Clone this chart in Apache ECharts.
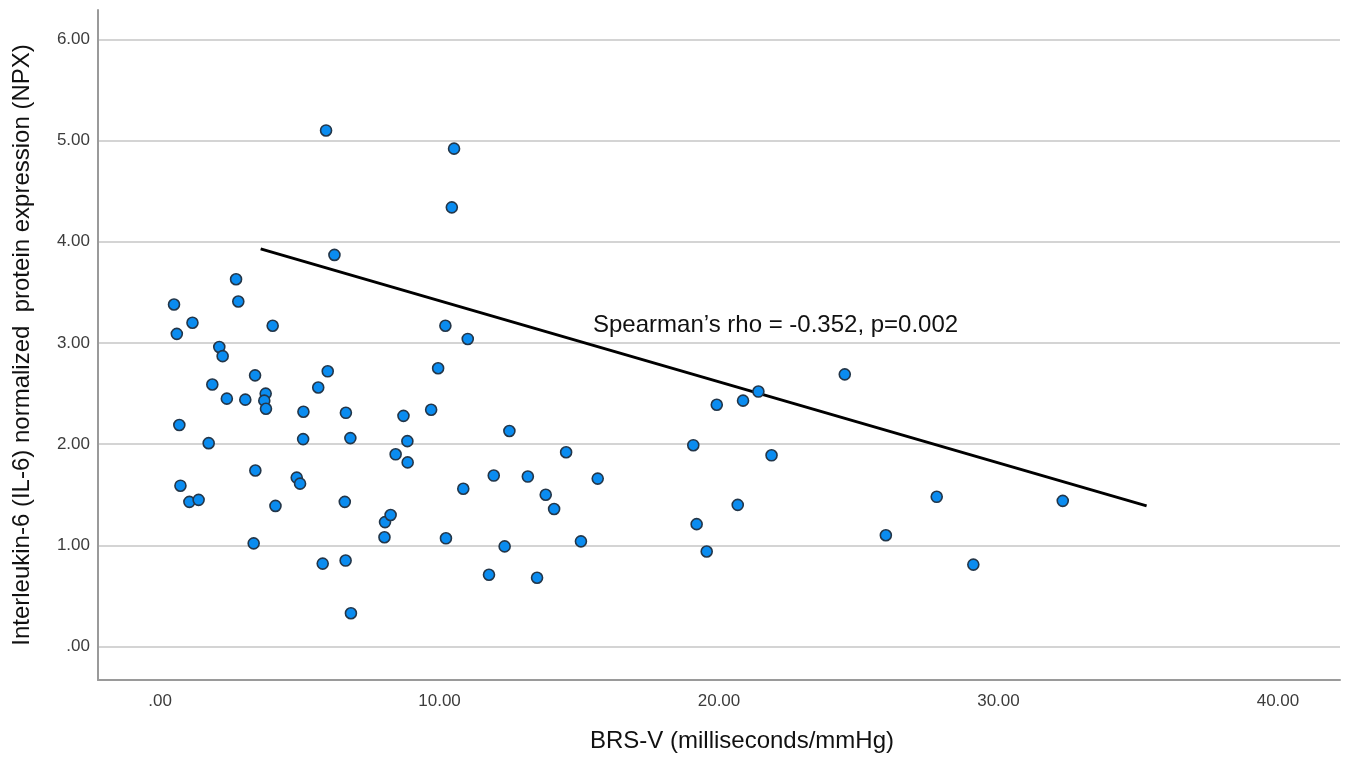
<!DOCTYPE html>
<html><head><meta charset="utf-8">
<script src="https://cdn.jsdelivr.net/npm/echarts@6/dist/echarts.min.js"></script>
<style>html,body{margin:0;padding:0;background:#fff}#c{width:1351px;height:762px}</style>
</head><body><div id="c"></div>
<script>
var brsV = [0.50,0.60,1.16,0.69,0.73,1.05,1.38,1.74,1.87,2.12,2.24,2.39,2.72,2.80,3.05,3.40,3.41,3.35,3.78,3.73,3.79,4.03,4.13,4.89,5.01,5.13,5.12,5.66,5.82,5.94,6.00,6.24,6.65,6.61,6.64,6.81,6.83,8.03,8.05,8.25,8.43,8.71,8.85,8.86,9.70,9.95,10.21,10.23,10.44,10.52,11.01,10.85,11.77,11.94,12.33,12.50,13.16,13.49,13.80,14.10,14.53,15.06,15.66,19.08,19.20,19.56,19.92,20.67,20.86,21.41,21.88,24.50,25.97,27.79,29.10,32.30];
var il6  = [3.38,3.09,3.20,2.19,1.59,1.43,1.45,2.01,2.59,2.96,2.87,2.45,3.63,3.41,2.44,2.68,1.74,1.02,2.50,2.43,2.35,3.17,1.39,1.67,1.61,2.32,2.05,2.56,0.82,5.10,2.72,3.87,2.31,1.43,0.85,2.06,0.33,1.08,1.23,1.30,1.90,2.28,2.03,1.82,2.34,2.75,3.17,1.07,4.34,4.92,3.04,1.56,0.71,1.69,0.99,2.13,1.68,0.68,1.50,1.36,1.92,1.04,1.66,1.99,1.21,0.94,2.39,1.40,2.43,2.52,1.89,2.69,1.10,1.48,0.81,1.44];
var fitX = [3.6, 35.3];
var fitY = [3.93, 1.39];
var xTicks = [0,10,20,30,40];
var yTicks = [0,1,2,3,4,5,6];
var annotation = "Spearman\u2019s rho = -0.352, p=0.002";

var pts = brsV.map(function(x,i){return [x, il6[i]];});
var fit = fitX.map(function(x,i){return [x, fitY[i]];});
function fmt(v){ return v===0 ? '.00' : v.toFixed(2); }
var FONT = 'Arial, "Liberation Sans", sans-serif';

var chart = echarts.init(document.getElementById('c'), null, {renderer:'canvas'});
chart.setOption({
  animation:false,
  backgroundColor:'#fff',
  grid:{left:98, right:11, top:10, bottom:82, containLabel:false},
  xAxis:{
    type:'value', min:-2.22, max:42.22,
    name:'BRS-V (milliseconds/mmHg)', nameLocation:'middle', nameGap:49,
    nameTextStyle:{fontSize:24, color:'#111', fontFamily:FONT, padding:[0,0,0,46]},
    axisLine:{show:true, onZero:false, lineStyle:{color:'#9a9a9a', width:2}},
    axisTick:{show:false, customValues:xTicks},
    axisLabel:{customValues:xTicks, formatter:fmt, fontSize:17, color:'#3c3c3c', margin:13, fontFamily:FONT},
    splitLine:{show:false}
  },
  yAxis:{
    type:'value', min:-0.33, max:6.29,
    name:'Interleukin-6 (IL-6) normalized  protein expression (NPX)', nameLocation:'middle', nameGap:64, nameRotate:90,
    nameTextStyle:{fontSize:24, color:'#111', fontFamily:FONT},
    axisLine:{show:true, onZero:false, lineStyle:{color:'#9a9a9a', width:2}},
    axisTick:{show:false, customValues:yTicks},
    axisLabel:{customValues:yTicks, formatter:fmt, fontSize:17, color:'#3c3c3c', margin:8, fontFamily:FONT},
    splitLine:{show:true, lineStyle:{color:'#d4d4d4', width:2}}
  },
  series:[
    {type:'scatter', data:pts, symbol:'circle', symbolSize:11, z:3,
     itemStyle:{color:'#0a8cf0', borderColor:'#233649', borderWidth:1.6, opacity:1}},
    {type:'line', data:fit, symbol:'none', z:2, silent:true,
     lineStyle:{color:'#000', width:3}}
  ],
  graphic:[{type:'text', left:593, top:313, style:{text:annotation, fontSize:24, fill:'#111', fontFamily:FONT}}]
});
</script></body></html>
